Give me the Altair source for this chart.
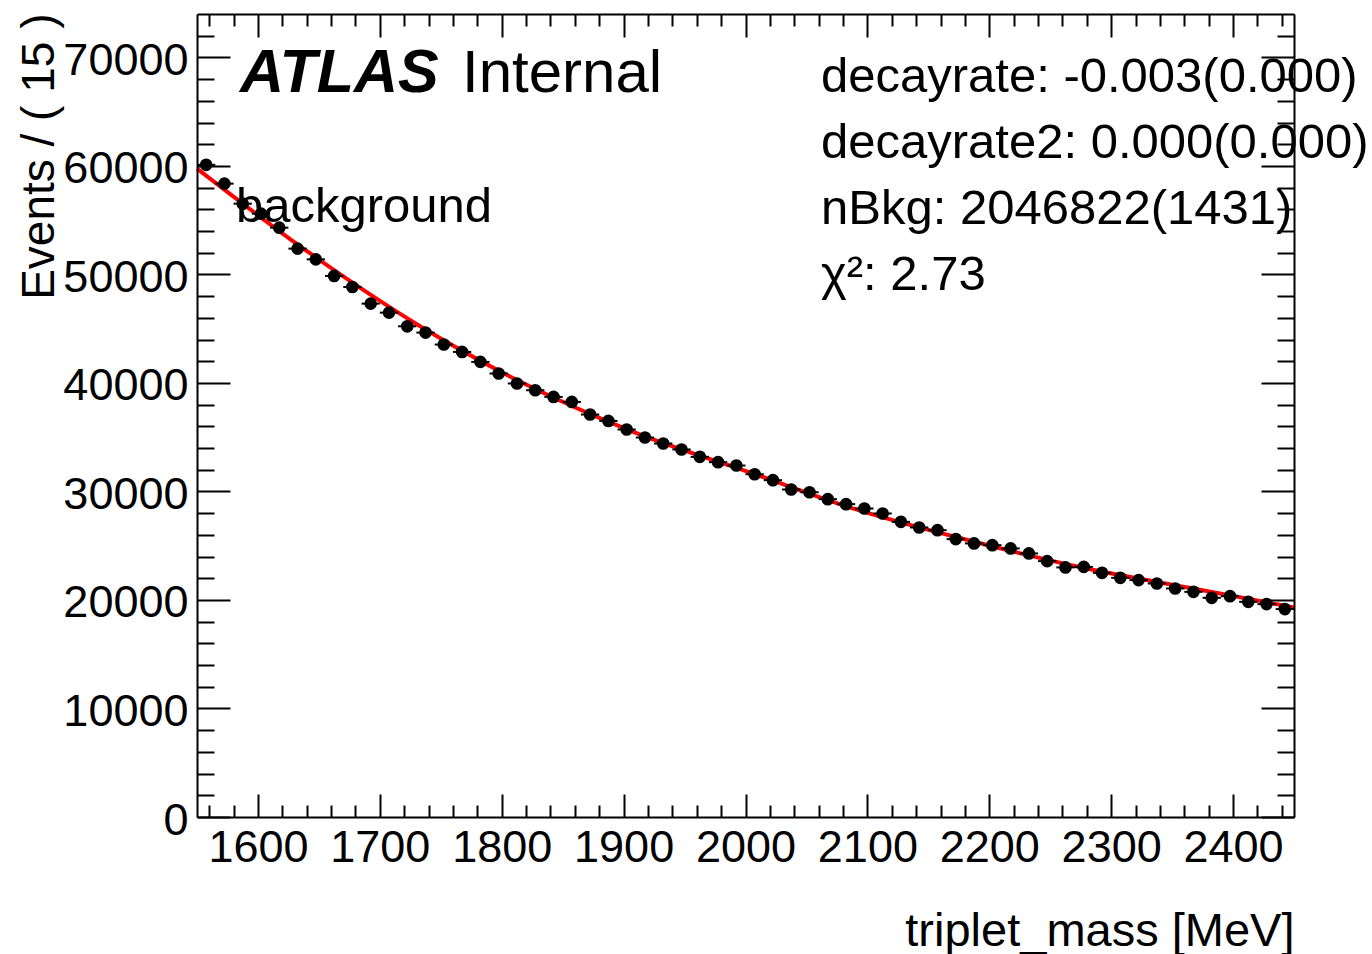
import altair as alt
import pandas as pd

# ---- data ----
mass = [1557.5, 1572.5, 1587.5, 1602.5, 1617.5, 1632.5, 1647.5, 1662.5, 1677.5, 1692.5,
        1707.5, 1722.5, 1737.5, 1752.5, 1767.5, 1782.5, 1797.5, 1812.5, 1827.5, 1842.5,
        1857.5, 1872.5, 1887.5, 1902.5, 1917.5, 1932.5, 1947.5, 1962.5, 1977.5, 1992.5,
        2007.5, 2022.5, 2037.5, 2052.5, 2067.5, 2082.5, 2097.5, 2112.5, 2127.5, 2142.5,
        2157.5, 2172.5, 2187.5, 2202.5, 2217.5, 2232.5, 2247.5, 2262.5, 2277.5, 2292.5,
        2307.5, 2322.5, 2337.5, 2352.5, 2367.5, 2382.5, 2397.5, 2412.5, 2427.5, 2442.5]
counts = [60100, 58370, 56520, 55600, 54310, 52380, 51390, 49860, 48840, 47310,
          46480, 45220, 44640, 43540, 42860, 41940, 40870, 39950, 39330, 38710,
          38250, 37090, 36500, 35710, 34970, 34420, 33870, 33190, 32700, 32390,
          31590, 31040, 30180, 29930, 29290, 28830, 28430, 27970, 27200, 26680,
          26430, 25610, 25210, 25050, 24750, 24290, 23580, 23000, 23050, 22500,
          22040, 21830, 21520, 21060, 20750, 20200, 20350, 19830, 19620, 19160]
fit_mass = [1550, 1642, 1732, 1820, 1910, 2005, 2092, 2183, 2273, 2364, 2450]
fit_vals = [59750, 52000, 45300, 39850, 35400, 31700, 28300, 25500, 23060, 21120, 19316]

x_major = [1600, 1700, 1800, 1900, 2000, 2100, 2200, 2300, 2400]
x_minor = [1560, 1580, 1620, 1640, 1660, 1680, 1720, 1740, 1760, 1780, 1820, 1840,
           1860, 1880, 1920, 1940, 1960, 1980, 2020, 2040, 2060, 2080, 2120, 2140,
           2160, 2180, 2220, 2240, 2260, 2280, 2320, 2340, 2360, 2380, 2420, 2440]
y_major = [0, 10000, 20000, 30000, 40000, 50000, 60000, 70000]
y_minor = [2000, 4000, 6000, 8000, 12000, 14000, 16000, 18000, 22000, 24000, 26000,
           28000, 32000, 34000, 36000, 38000, 42000, 44000, 46000, 48000, 52000,
           54000, 56000, 58000, 62000, 64000, 66000, 68000, 72000]

bin_half = 7.5
df = pd.DataFrame({"mass": mass, "count": counts})
fit = pd.DataFrame({"mass": fit_mass, "value": fit_vals})

W, H = 1097, 803
FONT = "Liberation Sans"
xs = alt.Scale(domain=[1550, 2450], nice=False, zero=False)
ys = alt.Scale(domain=[0, 74000], nice=False, zero=False)


def ax(**kw):
    base = dict(title=None, grid=False, domain=False, labels=False, ticks=False,
                zindex=2, tickColor="black", tickWidth=2, domainColor="black",
                domainWidth=2)
    base.update(kw)
    return alt.Axis(**base)


def tick_ax(orient, offset, values, size):
    return ax(orient=orient, offset=offset, values=values, ticks=True, tickSize=size)


# layer 1: data points + labelled axes
points = alt.Chart(df).mark_circle(color="black", size=160, opacity=1).encode(
    x=alt.X("mass:Q", scale=xs, axis=ax(
        orient="bottom", domain=True, labels=True, values=x_major, tickSize=0,
        format="d",
        labelFont=FONT, labelFontSize=45, labelColor="black", labelPadding=8,
        labelFlush=False, labelOverlap=False,
        title="triplet_mass [MeV]", titleFont=FONT, titleFontSize=47,
        titleFontWeight="normal", titleColor="black", titleAlign="right",
        titleBaseline="alphabetic", titleX=W, titleY=128, titleAngle=0)),
    y=alt.Y("count:Q", scale=ys, axis=ax(
        orient="left", domain=True, labels=True, values=y_major, tickSize=0,
        format="d",
        labelFont=FONT, labelFontSize=45, labelColor="black", labelPadding=9,
        labelOffset=3, labelFlush=False, labelOverlap=False,
        title="Events / ( 15 )", titleFont=FONT, titleFontSize=46,
        titleFontWeight="normal", titleColor="black", titleAlign="right",
        titleBaseline="alphabetic", titleAngle=-90, titleX=-144, titleY=-1)),
)

# layer 2: fit curve, with inward major ticks at bottom / left
curve = alt.Chart(fit).mark_line(color="#ff0000", strokeWidth=4, interpolate="monotone").encode(
    x=alt.X("mass:Q", scale=xs, axis=tick_ax("top", -H, x_major, 23)),
    y=alt.Y("value:Q", scale=ys, axis=tick_ax("right", -W, y_major, 33)),
)

# layer 3: horizontal error bars (bin width), minor ticks bottom / left
hbars = alt.Chart(df).transform_calculate(
    lo=f"datum.mass - {bin_half}", hi=f"datum.mass + {bin_half}"
).mark_rule(color="black", strokeWidth=2).encode(
    x=alt.X("lo:Q", scale=xs, axis=tick_ax("top", -H, x_minor, 12)),
    x2="hi:Q",
    y=alt.Y("count:Q", scale=ys, axis=tick_ax("right", -W, y_minor, 17)),
)

# layer 4: vertical (Poisson) error bars, major ticks top / right
vbars = alt.Chart(df).transform_calculate(
    ylo="datum.count - sqrt(datum.count)", yhi="datum.count + sqrt(datum.count)"
).mark_rule(color="black", strokeWidth=2).encode(
    x=alt.X("mass:Q", scale=xs, axis=tick_ax("bottom", -H, x_major, 23)),
    y=alt.Y("ylo:Q", scale=ys, axis=tick_ax("left", -W, y_major, 33)),
    y2="yhi:Q",
)

# layer 5: minor ticks top / right
minor_tr = alt.Chart(df).mark_point(opacity=0).encode(
    x=alt.X("mass:Q", scale=xs, axis=tick_ax("bottom", -H, x_minor, 12)),
    y=alt.Y("count:Q", scale=ys, axis=tick_ax("left", -W, y_minor, 17)),
)

# layer 6: frame lines top / right
frame = alt.Chart(df).mark_point(opacity=0).encode(
    x=alt.X("mass:Q", scale=xs, axis=ax(orient="top", domain=True)),
    y=alt.Y("count:Q", scale=ys, axis=ax(orient="right", domain=True)),
)


def label(txt, x, y, size, weight="normal", style="normal"):
    return alt.Chart(pd.DataFrame({"t": [txt]})).mark_text(
        align="left", baseline="alphabetic", font=FONT, fontSize=size,
        fontWeight=weight, fontStyle=style, color="black"
    ).encode(text="t:N", x=alt.value(x), y=alt.value(y))


texts = [
    label("ATLAS", 43, 78, 61, weight="bold", style="italic"),
    label("Internal", 265, 78, 60),
    label("background", 39, 208, 49),
    label("decayrate: -0.003(0.000)", 624, 78, 49),
    label("decayrate2: 0.000(0.000)", 624, 144, 49),
    label("nBkg: 2046822(1431)", 624, 210, 49),
    label("χ²: 2.73", 624, 276, 49),
]

chart = alt.layer(curve, hbars, vbars, points, minor_tr, frame, *texts).resolve_axis(
    x="independent", y="independent"
).properties(
    width=W, height=H,
    autosize=alt.AutoSizeParams(type="none"),
    padding={"left": 197, "top": 14, "right": 78, "bottom": 137},
).configure_view(stroke=None).configure(background="white")

chart.save("out.html", embed_options={"renderer": "svg", "actions": False})
